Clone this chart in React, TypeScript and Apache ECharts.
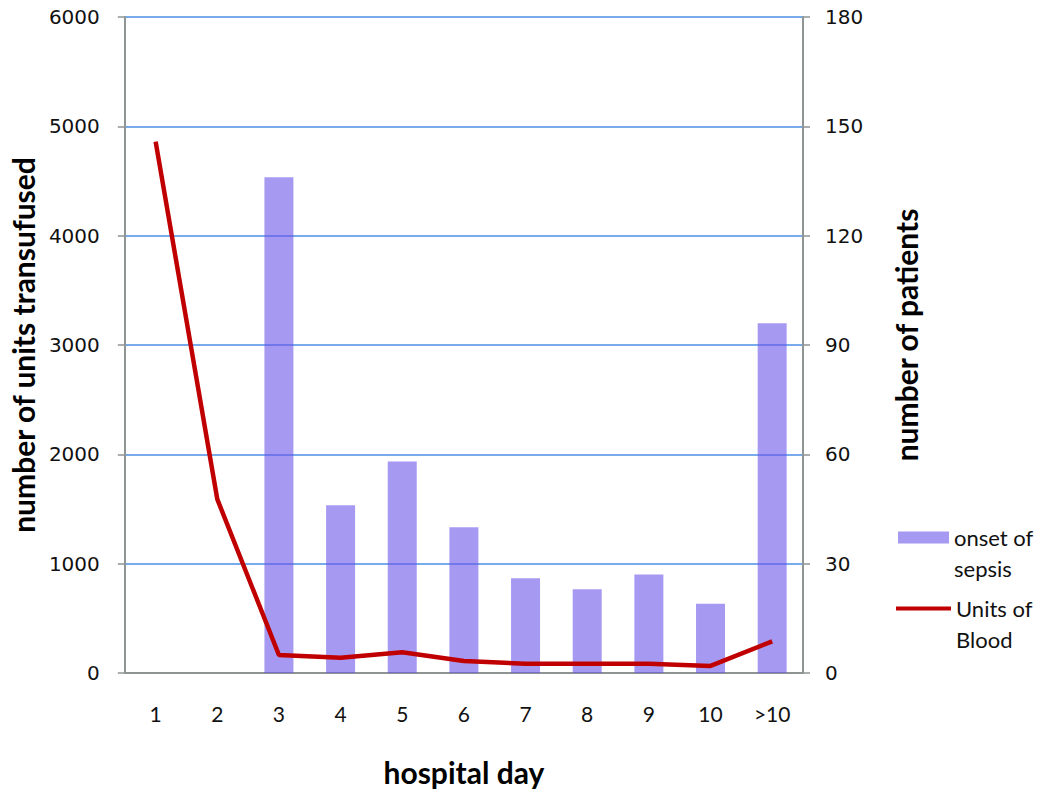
import React, { useEffect, useRef } from "react";
import * as echarts from "echarts";

const days = ["1", "2", "3", "4", "5", "6", "7", "8", "9", "10", ">10"];
const sepsisOnset = [0, 0, 136, 46, 58, 40, 26, 23, 27, 19, 96];
const unitsOfBlood = [4860, 1590, 165, 140, 190, 110, 85, 85, 85, 65, 290];
const leftTicks = { min: 0, max: 6000, interval: 1000 };
const rightTicks = { min: 0, max: 180, interval: 30 };

const AXIS_GRAY = "#8c9494";
const GRID_BLUE = "#4a8fe6";
const LABEL_FONT = "DejaVu Sans";
const TITLE_FONT = "Lato";

export default function App() {
  const ref = useRef<HTMLDivElement>(null);
  useEffect(() => {
    if (!ref.current) return;
    const chart = echarts.init(ref.current, undefined, { renderer: "svg" });
    const legendText = { fontFamily: TITLE_FONT, fontSize: 22, color: "#111", lineHeight: 31 };
    chart.setOption({
      animation: false,
      backgroundColor: "#ffffff",
      grid: { left: 122, right: 247, top: 17, bottom: 124 },
      legend: [
        {
          data: [{ name: "onset of sepsis", icon: "rect" }],
          left: 893,
          top: 486,
          orient: "vertical",
          itemWidth: 51,
          itemHeight: 12,
          formatter: () => "\nonset of\nsepsis",
          textStyle: legendText,
        },
        {
          data: [{ name: "Units of Blood", icon: "rect" }],
          left: 891,
          top: 557,
          orient: "vertical",
          itemWidth: 55,
          itemHeight: 4,
          itemStyle: { color: "#c00000" },
          formatter: () => "\nUnits of\nBlood",
          textStyle: legendText,
        },
      ],
      xAxis: {
        type: "category",
        data: days,
        boundaryGap: true,
        axisLine: { show: true, lineStyle: { color: AXIS_GRAY, width: 2 } },
        axisTick: { show: false },
        axisLabel: { fontFamily: TITLE_FONT, fontSize: 21, color: "#111", margin: 30 },
        name: "hospital day",
        nameLocation: "middle",
        nameGap: 84,
        nameTextStyle: { fontFamily: TITLE_FONT, fontSize: 30, fontWeight: "bold", color: "#000" },
      },
      yAxis: [
        {
          type: "value",
          position: "left",
          ...leftTicks,
          axisLine: { show: true, lineStyle: { color: AXIS_GRAY, width: 2 } },
          axisTick: { show: true, length: 7, lineStyle: { color: AXIS_GRAY, width: 1.5 } },
          axisLabel: {
            fontFamily: LABEL_FONT,
            fontSize: 20,
            color: "#111",
            margin: 25,
            formatter: (v: number) => String(v),
          },
          splitLine: { show: true, lineStyle: { color: GRID_BLUE, width: 1.5 } },
          name: "number of units transufused",
          nameLocation: "middle",
          nameGap: 84,
          nameTextStyle: { fontFamily: TITLE_FONT, fontSize: 30, fontWeight: "bold", color: "#000" },
        },
        {
          type: "value",
          position: "right",
          ...rightTicks,
          axisLine: { show: true, lineStyle: { color: AXIS_GRAY, width: 2 } },
          axisTick: { show: true, length: 7, lineStyle: { color: AXIS_GRAY, width: 1.5 } },
          axisLabel: {
            fontFamily: LABEL_FONT,
            fontSize: 20,
            color: "#111",
            margin: 22,
            formatter: (v: number) => String(v),
          },
          splitLine: { show: false },
          name: "number of patients",
          nameLocation: "middle",
          nameGap: 88,
          nameRotate: 90,
          nameTextStyle: {
            fontFamily: TITLE_FONT,
            fontSize: 30,
            fontWeight: "bold",
            color: "#000",
            padding: [0, 0, 0, 20],
          },
        },
      ],
      series: [
        {
          name: "onset of sepsis",
          type: "bar",
          yAxisIndex: 1,
          data: sepsisOnset,
          barWidth: 29,
          itemStyle: { color: "rgba(107,85,233,0.6)" },
          z: 3,
        },
        {
          name: "Units of Blood",
          type: "line",
          yAxisIndex: 0,
          data: unitsOfBlood,
          symbol: "none",
          showSymbol: false,
          lineStyle: { color: "#c00000", width: 4.5 },
          itemStyle: { color: "#c00000" },
          z: 4,
        },
      ],
    });
    return () => chart.dispose();
  }, []);
  return (
    <div
      ref={ref}
      style={{ position: "fixed", left: 0, top: 0, width: 1050, height: 797, background: "#fff" }}
    />
  );
}
